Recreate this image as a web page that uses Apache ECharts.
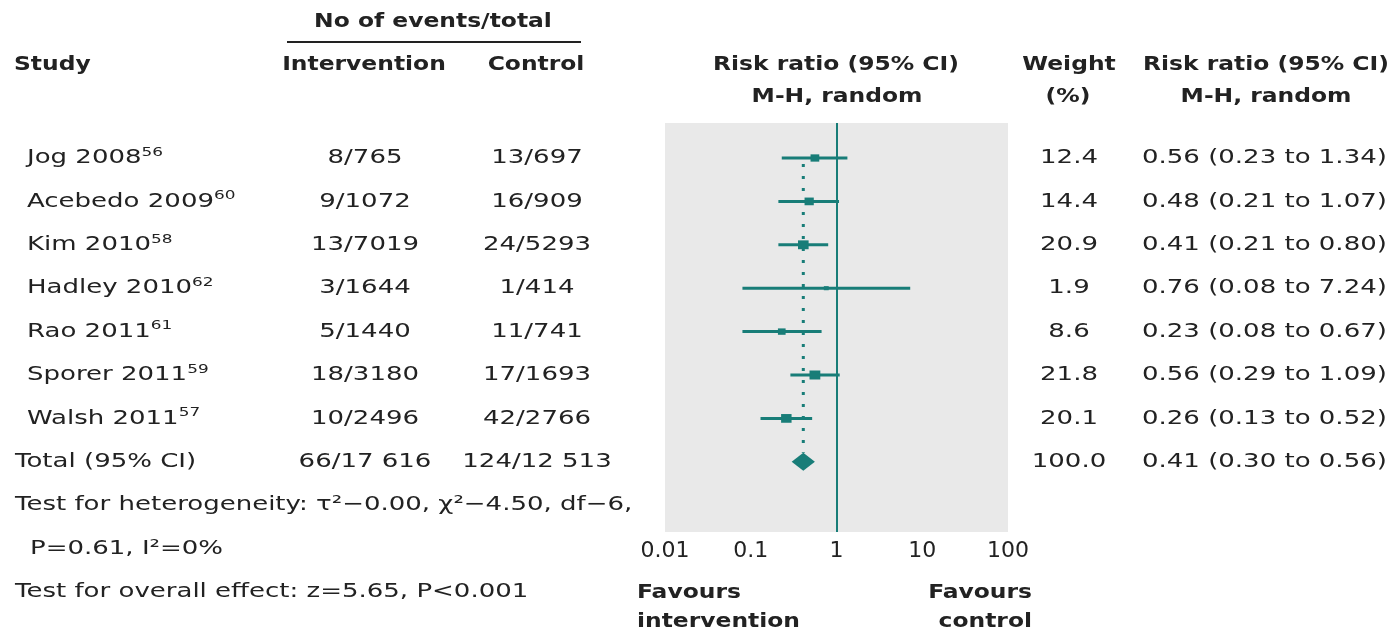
<!DOCTYPE html>
<html><head><meta charset="utf-8">
<script src="https://cdn.jsdelivr.net/npm/echarts@6/dist/echarts.min.js"></script>
<style>html,body{margin:0;padding:0;background:#fff}#c{width:1398px;height:636px}</style>
</head><body><div id="c"></div>
<script>
// ---------------- data ----------------
const studies = ['Jog 2008', 'Acebedo 2009', 'Kim 2010', 'Hadley 2010', 'Rao 2011', 'Sporer 2011', 'Walsh 2011'];
const refs = ['56', '60', '58', '62', '61', '59', '57'];
const intEvents = [8, 9, 13, 3, 5, 18, 10];
const intTotals = [765, 1072, 7019, 1644, 1440, 3180, 2496];
const ctlEvents = [13, 16, 24, 1, 11, 17, 42];
const ctlTotals = [697, 909, 5293, 414, 741, 1693, 2766];
const weights = [12.4, 14.4, 20.9, 1.9, 8.6, 21.8, 20.1];
const rr = [0.56, 0.48, 0.41, 0.76, 0.23, 0.56, 0.26];
const rrLo = [0.23, 0.21, 0.21, 0.08, 0.08, 0.29, 0.13];
const rrHi = [1.34, 1.07, 0.80, 7.24, 0.67, 1.09, 0.52];
const totalLabel = 'Total (95% CI)';
const totalInt = [66, 17616];
const totalCtl = [124, 12513];
const totalWeight = 100.0;
const pooled = [0.41, 0.30, 0.56];
const xTicks = [0.01, 0.1, 1, 10, 100];
const xTickLabels = ['0.01', '0.1', '1', '10', '100'];
const heterogeneityText = 'Test for heterogeneity: τ²−0.00, χ²−4.50, df−6,';
const heterogeneityText2 = 'P=0.61, I²=0%';
const overallText = 'Test for overall effect: z=5.65, P<0.001';

// ---------------- styles ----------------
const teal = '#187d78';
const ink = '#222222';
const FONT = 'DejaVu Sans';
const ROW0 = 158, ROWH = 43.4;
const rowY = i => ROW0 + ROWH * i;

function fmtN(n) {
  return n >= 10000 ? String(n).replace(/(\d)(?=(\d{3})$)/, '$1 ') : String(n);
}
function txt(x, y, text, opt) {
  opt = opt || {};
  const bold = !!opt.bold;
  const st = {
    text: text, x: 0, y: 0, fontSize: 20, fontFamily: FONT,
    fontWeight: bold ? 'bold' : 'normal', fill: ink,
    align: opt.align || 'left', verticalAlign: 'middle'
  };
  if (opt.rich) st.rich = opt.rich;
  return { type: 'text', x: x, y: y, scaleX: bold ? 1.17 : 1.3, silent: true, style: st };
}
const supRich = {
  n: { fontSize: 20, fontFamily: FONT, fill: ink, lineHeight: 24 },
  s: { fontSize: 13, fontFamily: FONT, fill: ink, lineHeight: 13, verticalAlign: 'top' }
};

const g = [];
// headers
g.push(txt(433, 22, 'No of events/total', { bold: true, align: 'center' }));
g.push({ type: 'line', silent: true, shape: { x1: 287, y1: 42, x2: 581, y2: 42 }, style: { stroke: ink, lineWidth: 2 } });
g.push(txt(14, 65, 'Study', { bold: true }));
g.push(txt(364, 65, 'Intervention', { bold: true, align: 'center' }));
g.push(txt(536, 65, 'Control', { bold: true, align: 'center' }));
g.push(txt(836, 65, 'Risk ratio (95% CI)', { bold: true, align: 'center' }));
g.push(txt(837, 97, 'M-H, random', { bold: true, align: 'center' }));
g.push(txt(1069, 65, 'Weight', { bold: true, align: 'center' }));
g.push(txt(1068, 97, '(%)', { bold: true, align: 'center' }));
g.push(txt(1266, 65, 'Risk ratio (95% CI)', { bold: true, align: 'center' }));
g.push(txt(1266, 97, 'M-H, random', { bold: true, align: 'center' }));

// study rows
studies.forEach((s, i) => {
  const y = rowY(i);
  g.push(txt(27, y, '{n|' + s + '}{s|' + refs[i] + '}', { rich: supRich }));
  g.push(txt(365, y, intEvents[i] + '/' + fmtN(intTotals[i]), { align: 'center' }));
  g.push(txt(537, y, ctlEvents[i] + '/' + fmtN(ctlTotals[i]), { align: 'center' }));
  g.push(txt(1069, y, weights[i].toFixed(1), { align: 'center' }));
  g.push(txt(1142, y, rr[i].toFixed(2) + ' (' + rrLo[i].toFixed(2) + ' to ' + rrHi[i].toFixed(2) + ')'));
});
// total row
const yT = rowY(7);
g.push(txt(15, yT, totalLabel));
g.push(txt(365, yT, totalInt[0] + '/' + fmtN(totalInt[1]), { align: 'center' }));
g.push(txt(537, yT, totalCtl[0] + '/' + fmtN(totalCtl[1]), { align: 'center' }));
g.push(txt(1069, yT, totalWeight.toFixed(1), { align: 'center' }));
g.push(txt(1142, yT, pooled[0].toFixed(2) + ' (' + pooled[1].toFixed(2) + ' to ' + pooled[2].toFixed(2) + ')'));
// footnotes
g.push(txt(15, rowY(8), heterogeneityText));
g.push(txt(30, rowY(9), heterogeneityText2));
g.push(txt(15, rowY(10), overallText));
// favours
g.push(txt(637, 593, 'Favours', { bold: true }));
g.push(txt(637, 622, 'intervention', { bold: true }));
g.push(txt(1032, 593, 'Favours', { bold: true, align: 'right' }));
g.push(txt(1032, 622, 'control', { bold: true, align: 'right' }));

const studyData = studies.map((s, i) => [i, rr[i], rrLo[i], rrHi[i], weights[i]]);
const pooledData = [[7, pooled[0], pooled[1], pooled[2]]];

const GRID_TOP = 123, GRID_BOTTOM_PX = 532;
const yMin = (GRID_TOP - ROW0) / ROWH;
const yMax = (GRID_BOTTOM_PX - ROW0) / ROWH;

const chart = echarts.init(document.getElementById('c'), null, { renderer: 'canvas' });
chart.setOption({
  animation: false,
  backgroundColor: '#fff',
  grid: {
    left: 665, right: 1398 - 1008, top: GRID_TOP, bottom: 636 - GRID_BOTTOM_PX,
    show: true, backgroundColor: '#e9e9e9', borderWidth: 0
  },
  xAxis: {
    type: 'log', logBase: 10, min: xTicks[0], max: xTicks[xTicks.length - 1],
    axisLine: { show: false }, axisTick: { show: false }, splitLine: { show: false },
    axisLabel: {
      fontSize: 22, fontFamily: FONT, color: ink, margin: 8,
      formatter: v => {
        const k = xTicks.findIndex(t => Math.abs(Math.log10(t) - Math.log10(v)) < 1e-6);
        return k >= 0 ? xTickLabels[k] : '';
      }
    }
  },
  yAxis: { type: 'value', min: yMin, max: yMax, inverse: true, show: false },
  graphic: { elements: g },
  series: [
    {
      type: 'custom', name: 'pooled', silent: true,
      encode: { x: [1, 2, 3], y: 0 },
      data: pooledData,
      renderItem: (params, api) => {
        const row = api.value(0);
        const c = api.coord([api.value(1), row]);
        const l = api.coord([api.value(2), row]);
        const h = api.coord([api.value(3), row]);
        const top = api.coord([api.value(1), 0]);
        const hh = 9;
        return {
          type: 'group', children: [
            { type: 'line', shape: { x1: c[0], y1: top[1] + 6, x2: c[0], y2: c[1] - hh }, style: { stroke: teal, lineWidth: 3, lineDash: [3, 9] } },
            { type: 'polygon', shape: { points: [[l[0], c[1]], [c[0], c[1] - hh], [h[0], c[1]], [c[0], c[1] + hh]] }, style: { fill: teal } }
          ]
        };
      },
      markLine: {
        silent: true, symbol: ['none', 'none'], label: { show: false },
        lineStyle: { color: teal, width: 2, type: 'solid' },
        data: [{ xAxis: 1 }]
      }
    },
    {
      type: 'custom', name: 'studies', silent: true,
      encode: { x: [1, 2, 3], y: 0 },
      data: studyData,
      renderItem: (params, api) => {
        const row = api.value(0);
        const e = api.coord([api.value(1), row]);
        const l = api.coord([api.value(2), row]);
        const h = api.coord([api.value(3), row]);
        const side = 2 + Math.sqrt(api.value(4)) * 1.5;
        const w = side * 1.2;
        return {
          type: 'group', children: [
            { type: 'line', shape: { x1: l[0], y1: l[1], x2: h[0], y2: h[1] }, style: { stroke: teal, lineWidth: 3 } },
            { type: 'rect', shape: { x: e[0] - w / 2, y: e[1] - side / 2, width: w, height: side }, style: { fill: teal } }
          ]
        };
      }
    }
  ]
});
</script>
</body></html>
